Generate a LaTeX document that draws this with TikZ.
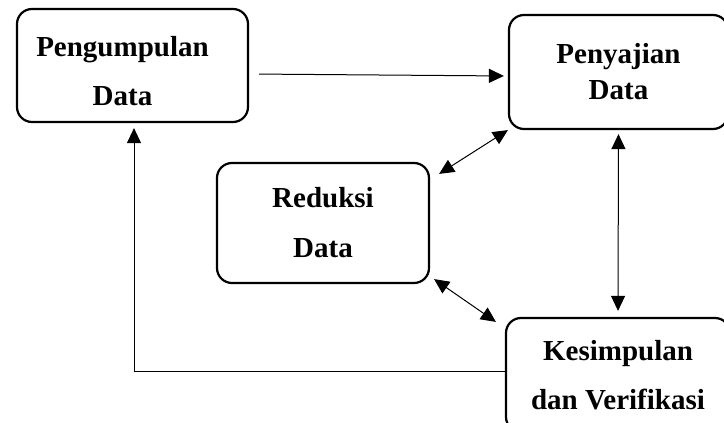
\documentclass[tikz,border=0pt]{standalone}
\usepackage{fontspec}
\setmainfont{Liberation Serif}
\usetikzlibrary{arrows.meta}

\begin{document}
\begin{tikzpicture}[x=1pt,y=1pt,>={Triangle[length=15pt,width=14pt]},main node/.style={draw,line width=2.2pt,rounded corners=15pt,align=center,font=\fontsize{29}{35}\selectfont\bfseries}]
  \useasboundingbox (0,0) rectangle (724,423);

  \node[main node,minimum width=231pt,minimum height=113pt] (kumpul) at (132.5,357.5) {\rule{0pt}{32pt}\hspace*{-20pt}Pengumpulan\\[14pt]\hspace*{-20pt}Data};
  \node[main node,minimum width=219pt,minimum height=114pt] (saji) at (618.5,351) {Penyajian\\[1pt]Data};
  \node[main node,minimum width=212pt,minimum height=120pt] (reduksi) at (323,200) {Reduksi\\[15pt]Data};
  \node[main node,minimum width=224pt,minimum height=114pt] (simpul) at (618,48) {Kesimpulan\\[14pt]dan Verifikasi};

  \path[line width=1pt,->]
    ([yshift=-8.5pt]kumpul.east) edge[shorten <=10pt,shorten >=4pt] ([yshift=-4pt]saji.west);

  \path[line width=1pt,<->]
    ([shift={(9pt,-12pt)}]reduksi.north east) edge (saji.south west)
    ([shift={(4pt,5pt)}]reduksi.south east) edge ([shift={(-9pt,-5pt)}]simpul.north west)
    (saji.south) edge[shorten <=4pt,shorten >=6pt] (simpul.north);

  \draw[line width=1pt,->,shorten >=5pt] ([yshift=3pt]simpul.west) -| ([xshift=1.5pt]kumpul.south);
\end{tikzpicture}
\end{document}
